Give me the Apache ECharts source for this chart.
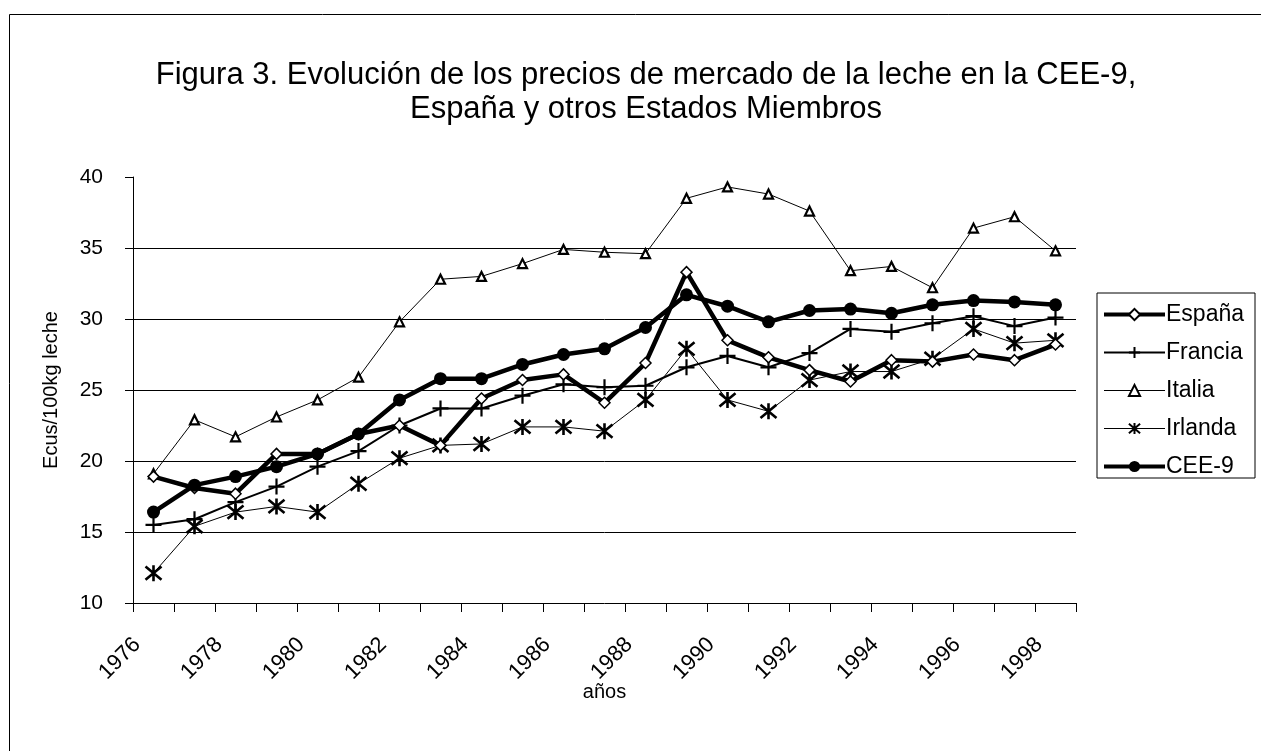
<!DOCTYPE html>
<html>
<head>
<meta charset="utf-8">
<script src="https://cdn.jsdelivr.net/npm/echarts@6/dist/echarts.min.js"></script>
<style>
  html, body { margin: 0; padding: 0; background: #fff; }
  #chart { width: 1261px; height: 751px; }
</style>
</head>
<body>
<div id="chart"></div>
<script>
// years on the category axis
var years = ["1976", "1977", "1978", "1979", "1980", "1981", "1982", "1983", "1984", "1985", "1986", "1987",
  "1988", "1989", "1990", "1991", "1992", "1993", "1994", "1995", "1996", "1997", "1998"];

// precios de la leche, Ecus/100kg
var espana = [18.9, 18.1, 17.7, 20.5, 20.5, 21.9, 22.5, 21.1, 24.4, 25.7, 26.1, 24.1,
  26.9, 33.3, 28.5, 27.3, 26.4, 25.6, 27.1, 27.0, 27.5, 27.1, 28.2];
var francia = [15.5, 15.9, 17.1, 18.2, 19.6, 20.7, 22.5, 23.7, 23.7, 24.6, 25.4, 25.2,
  25.3, 26.6, 27.4, 26.6, 27.6, 29.3, 29.1, 29.7, 30.2, 29.5, 30.1];
var italia = [19.1, 22.9, 21.7, 23.1, 24.3, 25.9, 29.8, 32.8, 33.0, 33.9, 34.9, 34.7,
  34.6, 38.5, 39.3, 38.8, 37.6, 33.4, 33.7, 32.2, 36.4, 37.2, 34.8];
var irlanda = [12.1, 15.4, 16.4, 16.8, 16.4, 18.4, 20.2, 21.1, 21.2, 22.4, 22.4, 22.1,
  24.3, 27.9, 24.3, 23.5, 25.7, 26.3, 26.3, 27.2, 29.3, 28.3, 28.5];
var cee9 = [16.4, 18.3, 18.9, 19.6, 20.5, 21.9, 24.3, 25.8, 25.8, 26.8, 27.5, 27.9,
  29.4, 31.7, 30.9, 29.8, 30.6, 30.7, 30.4, 31.0, 31.3, 31.2, 31.0];

var font = "Liberation Sans, Arial, sans-serif";
var asterisk = "path://M0,0L10,10M10,0L0,10M5,-1L5,11";
var plus = "path://M0,5L10,5M5,0L5,10";

var chart = echarts.init(document.getElementById("chart"));

var option = {
  backgroundColor: "#fff",
  animation: false,
  textStyle: { fontFamily: font, color: "#000" },
  title: {
    text: "Figura 3. Evolución de los precios de mercado de la leche en la CEE-9,\nEspaña y otros Estados Miembros",
    left: 641,
    top: 53,
    textAlign: "center",
    textStyle: {
      fontFamily: font,
      fontSize: 31,
      fontWeight: "normal",
      lineHeight: 34,
      color: "#000",
      align: "center"
    }
  },
  graphic: [
    {
      type: "rect",
      shape: { x: 9.5, y: 14.5, width: 1400, height: 900 },
      style: { fill: "none", stroke: "#000", lineWidth: 1 },
      silent: true
    }
  ],
  legend: {
    orient: "vertical",
    left: 1097,
    top: 293,
    padding: [10, 11, 0, 5],
    itemWidth: 61,
    itemHeight: 14,
    itemGap: 15,
    borderColor: "#000",
    borderWidth: 1,
    textStyle: { fontFamily: font, fontSize: 23, color: "#000", padding: [0, 0, 0, -4] },
    data: [
      { name: "España", lineStyle: { width: 4 } },
      { name: "Francia", lineStyle: { width: 2 } },
      { name: "Italia", lineStyle: { width: 1 } },
      { name: "Irlanda", lineStyle: { width: 1 } },
      { name: "CEE-9", lineStyle: { width: 4 } }
    ]
  },
  grid: {
    left: 133,
    right: 185,
    top: 177,
    bottom: 148
  },
  xAxis: {
    type: "category",
    data: years,
    boundaryGap: true,
    name: "años",
    nameLocation: "middle",
    nameGap: 79,
    nameMoveOverlap: false,
    nameTextStyle: { fontFamily: font, fontSize: 20, color: "#000" },
    axisLine: { lineStyle: { color: "#000", width: 1 } },
    axisTick: { show: true, interval: 0, length: 9, lineStyle: { color: "#000" } },
    axisLabel: {
      interval: 1,
      rotate: 45,
      margin: 22,
      padding: [0, 23, 0, 0],
      fontFamily: font,
      fontSize: 22,
      color: "#000"
    },
    splitLine: { show: false }
  },
  yAxis: {
    type: "value",
    min: 10,
    max: 40,
    interval: 5,
    name: "Ecus/100kg leche",
    nameLocation: "middle",
    nameGap: 72,
    nameRotate: 90,
    nameTextStyle: { fontFamily: font, fontSize: 20, color: "#000" },
    axisLine: { show: true, lineStyle: { color: "#000", width: 1 } },
    axisTick: { show: true, length: 8, lineStyle: { color: "#000" } },
    axisLabel: { margin: 30, fontFamily: font, fontSize: 21, color: "#000" },
    splitLine: {
      show: true,
      showMinLine: false,
      showMaxLine: false,
      lineStyle: { color: "#000", width: 1 }
    }
  },
  series: [
    {
      name: "Italia",
      type: "line",
      data: italia,
      symbol: "triangle",
      symbolSize: 9,
      lineStyle: { color: "#000", width: 1 },
      itemStyle: { color: "#fff", borderColor: "#000", borderWidth: 2.2 },
      z: 2
    },
    {
      name: "Irlanda",
      type: "line",
      data: irlanda,
      symbol: asterisk,
      symbolSize: 16,
      lineStyle: { color: "#000", width: 1 },
      itemStyle: { color: "#000", borderColor: "#000", borderWidth: 2.6 },
      z: 3
    },
    {
      name: "Francia",
      type: "line",
      data: francia,
      symbol: plus,
      symbolSize: 16,
      lineStyle: { color: "#000", width: 2 },
      itemStyle: { color: "#000", borderColor: "#000", borderWidth: 2.2 },
      z: 4
    },
    {
      name: "España",
      type: "line",
      data: espana,
      symbol: "diamond",
      symbolSize: 11,
      lineStyle: { color: "#000", width: 4.5 },
      itemStyle: { color: "#fff", borderColor: "#000", borderWidth: 1.5 },
      z: 5
    },
    {
      name: "CEE-9",
      type: "line",
      data: cee9,
      symbol: "circle",
      symbolSize: 13,
      lineStyle: { color: "#000", width: 4.5 },
      itemStyle: { color: "#000", borderColor: "#000", borderWidth: 0 },
      z: 6
    }
  ]
};

chart.setOption(option, true);
</script>
</body>
</html>
